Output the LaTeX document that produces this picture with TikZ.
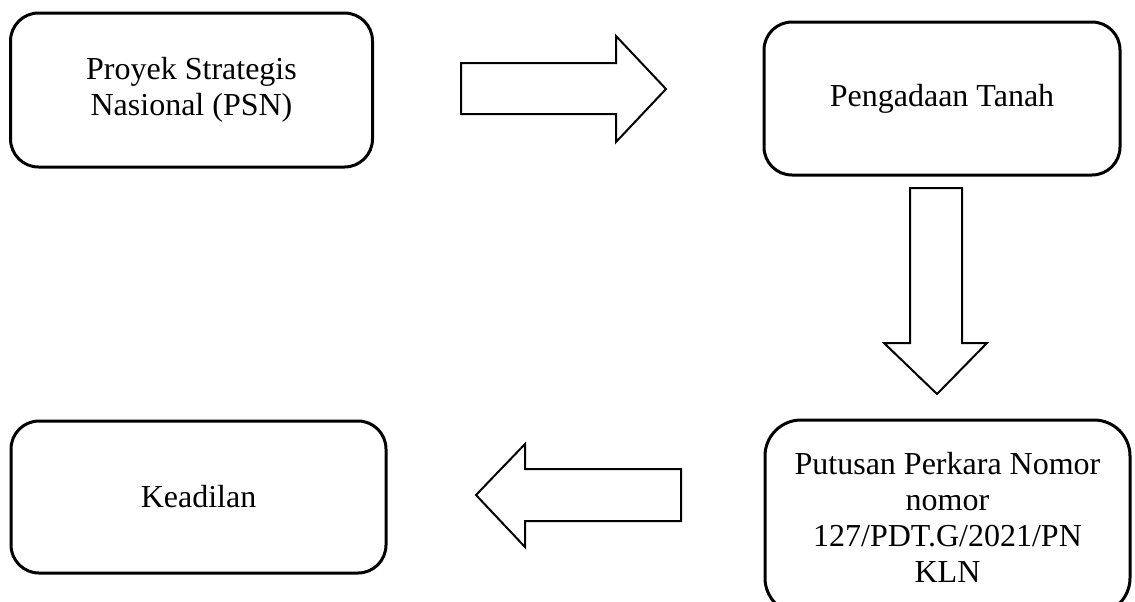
\documentclass[tikz,border=0pt]{standalone}
\usepackage{fontspec}
\setmainfont{Liberation Serif}

\begin{document}
\begin{tikzpicture}[x=0.5pt,y=-0.5pt,font=\fontsize{16}{18}\selectfont,
  box/.style={draw,line width=1.5pt,rounded corners=14pt,align=center,inner sep=0pt},
  blockarrow/.style={draw,line width=1pt,line join=miter}]
\useasboundingbox (0,0) rectangle (1135,601);
\node[box,minimum width=181pt,minimum height=77pt] (psn) at (191.5,90) {Proyek Strategis\\Nasional (PSN)};
\node[box,minimum width=178pt,minimum height=76.5pt] (tanah) at (942,98.5) {Pengadaan Tanah};
\node[box,minimum width=182.5pt,minimum height=97pt,rounded corners=18pt] (putusan) at (947.5,517)
  {Putusan Perkara Nomor\\nomor\\127/PDT.G/2021/PN\\KLN};
\node[box,minimum width=187.5pt,minimum height=76pt] (adil) at (198.5,497) {Keadilan};
% hollow arrows between the boxes
\draw[blockarrow] (461,63) -- (616,63) -- (616,36) -- (666,89) -- (616,142) -- (616,114) -- (461,114) -- cycle;
\draw[blockarrow] (910,188) -- (962,188) -- (962,343) -- (987,343) -- (937,394) -- (884,343) -- (910,343) -- cycle;
\draw[blockarrow] (681,469) -- (525,469) -- (525,444) -- (476,495) -- (525,547) -- (525,521) -- (681,521) -- cycle;
\end{tikzpicture}
\end{document}
